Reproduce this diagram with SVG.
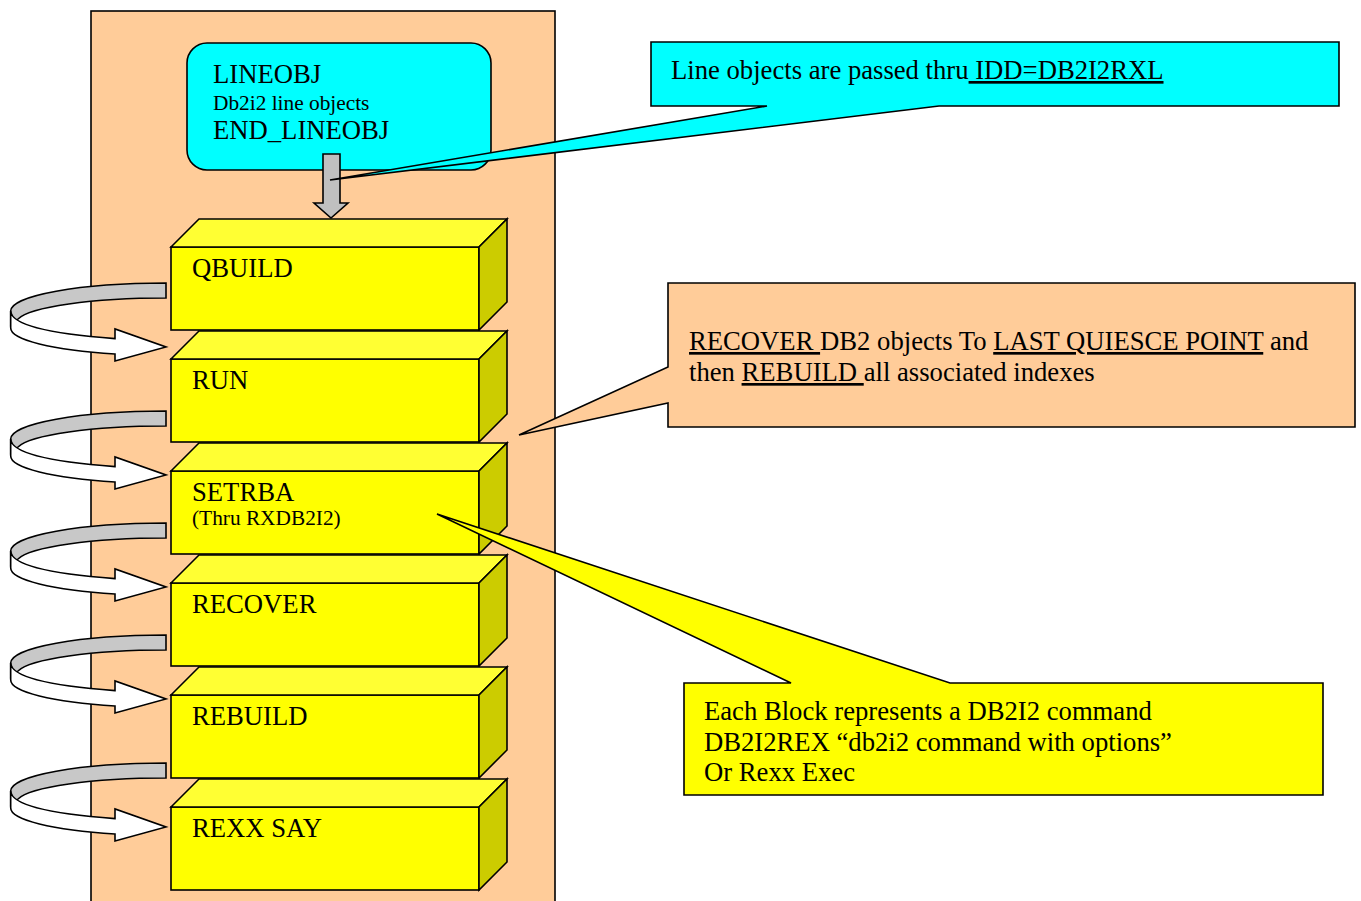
<svg xmlns="http://www.w3.org/2000/svg" xmlns:xlink="http://www.w3.org/1999/xlink" width="1361" height="901" viewBox="0 0 1361 901">
<style>
.t{font-family:"Liberation Serif","Times New Roman",serif;font-size:26.67px;fill:#000}
.s{font-size:21.33px}
.u{text-decoration:underline}
.ln{stroke:#000;stroke-width:1.6;stroke-linejoin:miter}
.front{fill:#FFFF00}
.top{fill:#FFFF33}
.side{fill:#CCCC00}
</style>
<defs>
<g id="uturn">
<path class="ln" fill="#C8C8C8" d="M166,0 A155.3,28 0 0 0 10.7,28 L10.7,42 L18,36 A150,25 0 0 1 166,15 Z"/>
<path class="ln" fill="#FFFFFF" d="M10.7,28 C11,40 40,50 115,55.6 L115,46 L166,64 L115,78 L115,71 A155.3,27.5 0 0 1 10.7,45 Z"/>
</g>
<g id="block">
<rect class="ln front" x="171" y="0" width="308" height="83"/>
<polygon class="ln top" points="171,0 199,-28 507,-28 479,0"/>
<polygon class="ln side" points="479,0 507,-28 507,55 479,83"/>
</g>
</defs>
<rect width="1361" height="901" fill="#FFFFFF"/>
<g id="panel">
<rect class="ln" x="91" y="11" width="464" height="900" fill="#FFCC99"/>
</g>
<g id="lineobj">
<rect class="ln" x="187" y="43" width="304" height="127" rx="20" ry="20" fill="#00FFFF"/>
<text class="t" x="213" y="83">LINEOBJ</text>
<text class="t s" x="213" y="110">Db2i2 line objects</text>
<text class="t" x="213" y="139">END_LINEOBJ</text>
</g>
<g id="qbuild">
<use xlink:href="#block" href="#block" transform="translate(0,247)"/>
<text class="t" x="192" y="277">QBUILD</text>
</g>
<g id="run">
<use xlink:href="#block" href="#block" transform="translate(0,359)"/>
<text class="t" x="192" y="389">RUN</text>
</g>
<g id="setrba">
<use xlink:href="#block" href="#block" transform="translate(0,471)"/>
<text class="t" x="192" y="501">SETRBA</text>
<text class="t s" x="192" y="525">(Thru RXDB2I2)</text>
</g>
<g id="recover">
<use xlink:href="#block" href="#block" transform="translate(0,583)"/>
<text class="t" x="192" y="613">RECOVER</text>
</g>
<g id="rebuild">
<use xlink:href="#block" href="#block" transform="translate(0,695)"/>
<text class="t" x="192" y="725">REBUILD</text>
</g>
<g id="rexxsay">
<use xlink:href="#block" href="#block" transform="translate(0,807)"/>
<text class="t" x="192" y="837">REXX SAY</text>
</g>
<g id="connectors">
<polygon class="ln" fill="#C0C0C0" points="323,154 340,154 340,203 348,203 331,218 314,203 323,203"/>
<use xlink:href="#uturn" href="#uturn" transform="translate(0,283)"/>
<use xlink:href="#uturn" href="#uturn" transform="translate(0,411)"/>
<use xlink:href="#uturn" href="#uturn" transform="translate(0,523)"/>
<use xlink:href="#uturn" href="#uturn" transform="translate(0,635)"/>
<use xlink:href="#uturn" href="#uturn" transform="translate(0,763)"/>
</g>
<g id="callout-idd">
<path class="ln" fill="#00FFFF" d="M651,42 L1339,42 L1339,106 L939,106 L330,180 L767,106 L651,106 Z"/>
<text class="t" x="671" y="79">Line objects are passed thru<tspan class="u"> IDD=DB2I2RXL</tspan></text>
</g>
<g id="callout-recover">
<path class="ln" fill="#FFCC99" d="M668,283 L1355,283 L1355,427 L668,427 L668,403 L519,435 L668,367 Z"/>
<text class="t" x="689" y="350"><tspan class="u">RECOVER </tspan>DB2 objects To <tspan class="u">LAST QUIESCE POINT</tspan> and</text>
<text class="t" x="689" y="381">then <tspan class="u">REBUILD </tspan>all associated indexes</text>
</g>
<g id="callout-block">
<path class="ln" fill="#FFFF00" d="M684,683 L791,683 L437,514 L950,683 L1323,683 L1323,795 L684,795 Z"/>
<text class="t" x="704" y="720">Each Block represents a DB2I2 command</text>
<text class="t" x="704" y="751">DB2I2REX “db2i2 command with options”</text>
<text class="t" x="704" y="781">Or Rexx Exec</text>
</g>
</svg>
